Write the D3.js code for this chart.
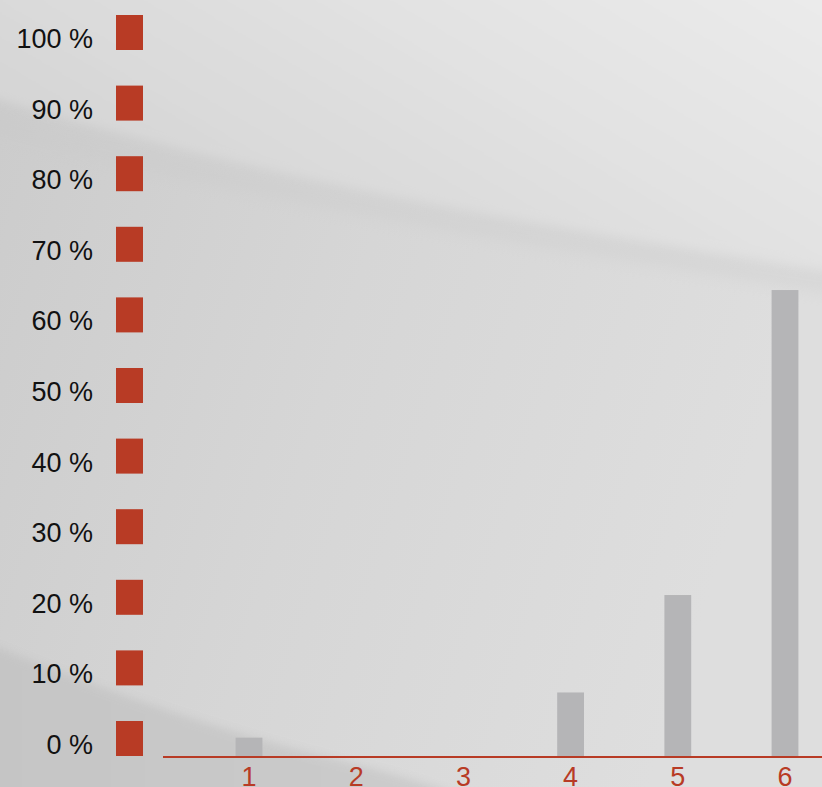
<!DOCTYPE html>
<html><head><meta charset="utf-8">
<script src="https://cdn.jsdelivr.net/npm/d3@7"></script>
<style>html,body{margin:0;padding:0;overflow:hidden;background:#d6d6d6}</style>
</head><body><svg id="c" width="822" height="787"></svg>
<script>
const categories = ["1","2","3","4","5","6"];
const values = [2.6, 0, 0, 9.0, 22.8, 66.0];
const yTicks = [0,10,20,30,40,50,60,70,80,90,100];
const tickLabels = yTicks.map(v => v + " %");

const W = 822, H = 787;
const svg = d3.select("#c");
const defs = svg.append("defs");

// background gradients
const g1 = defs.append("linearGradient").attr("id","bgBase").attr("x1","0").attr("y1","0").attr("x2","1").attr("y2","0.3");
g1.append("stop").attr("offset","0").attr("stop-color","#cbcbcb");
g1.append("stop").attr("offset","0.5").attr("stop-color","#d6d6d6");
g1.append("stop").attr("offset","1").attr("stop-color","#dedede");
const g2 = defs.append("linearGradient").attr("id","bgTop").attr("x1","0").attr("y1","0.6").attr("x2","1").attr("y2","0");
g2.append("stop").attr("offset","0").attr("stop-color","#d2d2d2");
g2.append("stop").attr("offset","0.45").attr("stop-color","#e0e0e0");
g2.append("stop").attr("offset","1").attr("stop-color","#eeeeee");
const g3 = defs.append("linearGradient").attr("id","bgBot").attr("x1","0").attr("y1","0").attr("x2","1").attr("y2","0");
g3.append("stop").attr("offset","0").attr("stop-color","#c4c4c4");
g3.append("stop").attr("offset","1").attr("stop-color","#cbcbcb");
const blur = defs.append("filter").attr("id","soft").attr("filterUnits","userSpaceOnUse")
  .attr("x",-100).attr("y",-100).attr("width",1100).attr("height",1000);
blur.append("feGaussianBlur").attr("stdDeviation","4");
const blur2 = defs.append("filter").attr("id","soft2").attr("filterUnits","userSpaceOnUse")
  .attr("x",-100).attr("y",-100).attr("width",1100).attr("height",1000);
blur2.append("feGaussianBlur").attr("stdDeviation","8");

svg.append("rect").attr("width",W).attr("height",H).attr("fill","url(#bgBase)");
// shadow band under top swoosh
svg.append("path").attr("d","M-60,95 C200,170 450,215 880,282 L880,300 C450,235 200,190 -60,120 Z")
  .attr("fill","#c9c9c9").attr("opacity",0.35).attr("filter","url(#soft2)");
svg.append("path").attr("d","M-60,-60 L880,-60 L880,276 C450,212 200,162 -60,82 Z")
  .attr("fill","url(#bgTop)").attr("filter","url(#soft)");
// bottom-left darker swoosh
svg.append("path").attr("d","M-20,640 C90,685 200,725 330,758 C400,775 440,787 470,800 L-20,800 Z")
  .attr("fill","url(#bgBot)").attr("filter","url(#soft)").attr("opacity",0.9);

// scales
const y = d3.scaleLinear().domain([0,100]).range([756,50]);
const x = d3.scaleBand().domain(categories).range([195.4, 838.6]).paddingInner(0.75).paddingOuter(0.375);

const red = "#b83b25";

// y axis labels and markers
const yg = svg.append("g");
yg.selectAll("rect.m").data(yTicks).join("rect").attr("class","m")
  .attr("x",116).attr("width",27).attr("y",d=>y(d)-35).attr("height",35).attr("fill",red);
yg.selectAll("text").data(yTicks).join("text")
  .attr("x",93).attr("y",d=>y(d)-2).attr("text-anchor","end")
  .attr("font-family","Liberation Sans, Arial, sans-serif").attr("font-size",27)
  .attr("fill","#111").text((d,i)=>tickLabels[i]);

// bars
svg.append("g").selectAll("rect").data(values).join("rect")
  .attr("x",(d,i)=>x(categories[i])).attr("width",x.bandwidth())
  .attr("y",d=>y(d)).attr("height",d=>y(0)-y(d)).attr("fill","#b5b5b7");

// baseline
svg.append("line").attr("x1",163).attr("x2",W).attr("y1",y(0)+1).attr("y2",y(0)+1)
  .attr("stroke",red).attr("stroke-width",2.2);

// x labels via axis
const xa = svg.append("g").attr("transform",`translate(0,${y(0)})`)
  .call(d3.axisBottom(x).tickSize(0).tickPadding(0));
xa.select(".domain").remove();
xa.selectAll("text").attr("y",30).attr("dy",null).attr("fill",red)
  .attr("font-family","Liberation Sans, Arial, sans-serif").attr("font-size",27);
</script></body></html>
